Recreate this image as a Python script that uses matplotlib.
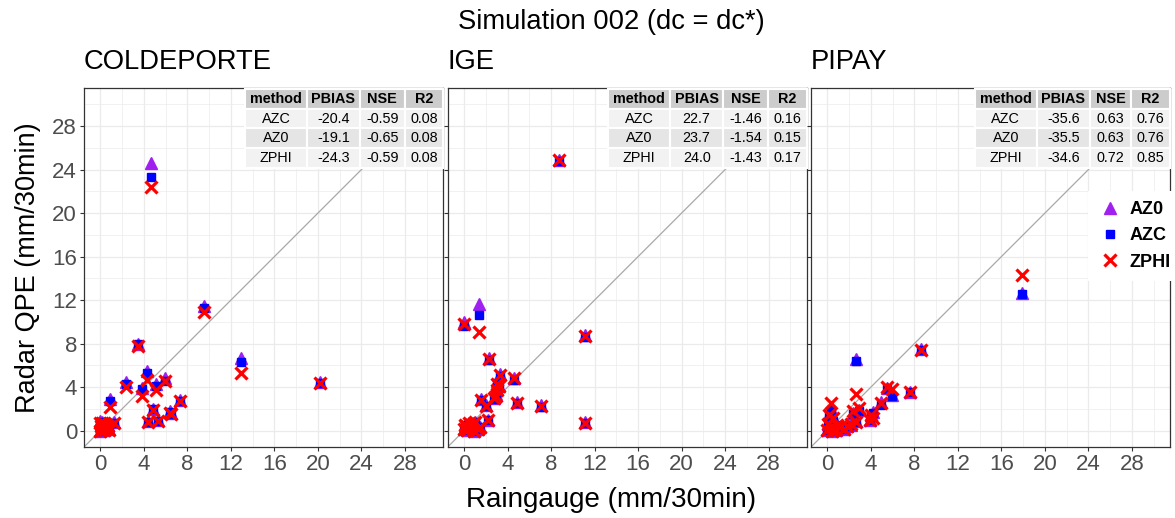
import matplotlib
matplotlib.use("Agg")
import matplotlib.pyplot as plt
from matplotlib.lines import Line2D
import numpy as np

plt.rcParams['font.family'] = ['Liberation Sans', 'DejaVu Sans']

# ---- data ----
panel_names = ["COLDEPORTE", "IGE", "PIPAY"]

cold_gauge = [4.7, 9.5, 3.5, 12.9, 20.2, 4.3, 2.4, 3.8, 5.1, 5.9, 0.9, 4.8, 7.3, 6.4, 6.5, 4.4, 5.3, 1.3,
              0.0, 0.1, 0.2, 0.3, 0.5, 0.0, 0.4, 0.6, 0.2, 0.8, 0.1, 0.3, 0.7]
cold_az0 = [24.6, 11.5, 8.0, 6.7, 4.5, 5.5, 4.5, 3.9, 4.3, 4.8, 2.9, 2.0, 2.8, 1.8, 1.6, 0.9, 1.0, 0.8,
            0.9, 0.5, 0.3, 0.1, 0.6, 0.0, 0.2, 0.4, 0.8, 0.2, 0.1, 0.7, 0.5]
cold_azc = [23.3, 11.3, 8.0, 6.3, 4.4, 5.3, 4.3, 3.8, 4.1, 4.6, 2.7, 2.0, 2.7, 1.7, 1.5, 0.8, 0.9, 0.7,
            0.8, 0.5, 0.3, 0.1, 0.5, 0.0, 0.2, 0.4, 0.7, 0.2, 0.1, 0.6, 0.5]
cold_zphi = [22.4, 10.9, 7.8, 5.3, 4.4, 4.7, 4.0, 3.2, 3.7, 4.6, 2.2, 1.9, 2.7, 1.6, 1.5, 0.8, 0.9, 0.7,
             0.7, 0.4, 0.3, 0.1, 0.5, 0.0, 0.2, 0.3, 0.7, 0.1, 0.1, 0.6, 0.4]

ige_gauge = [8.7, 11.1, 11.1, 0.0, 1.4, 2.3, 3.3, 3.0, 4.6, 3.0, 3.2, 2.8, 2.9, 1.6, 2.0, 4.9, 7.1, 2.2,
             0.0, 0.2, 0.5, 0.8, 1.0, 0.3, 1.3, 0.6, 1.5, 0.9, 0.1]
ige_az0 = [24.9, 8.8, 0.8, 10.0, 11.6, 6.7, 5.2, 4.6, 4.8, 3.8, 4.1, 3.0, 3.4, 2.9, 2.4, 2.6, 2.4, 1.0,
           0.2, 0.4, 0.7, 0.6, 0.8, 0.1, 0.2, 0.3, 0.3, 0.0, 0.5]
ige_azc = [24.8, 8.6, 0.7, 9.6, 10.6, 6.5, 5.0, 4.4, 4.7, 3.6, 4.0, 2.9, 3.3, 2.8, 2.3, 2.5, 2.2, 1.0,
           0.2, 0.4, 0.7, 0.6, 0.8, 0.1, 0.2, 0.3, 0.3, 0.0, 0.5]
ige_zphi = [24.9, 8.7, 0.7, 9.8, 9.1, 6.6, 5.1, 4.3, 4.8, 3.7, 4.1, 3.0, 3.2, 2.8, 2.3, 2.5, 2.3, 1.0,
            0.2, 0.4, 0.7, 0.6, 0.8, 0.1, 0.2, 0.3, 0.3, 0.0, 0.5]

pip_gauge = [17.9, 8.6, 2.6, 7.6, 5.5, 5.9, 4.9, 4.0, 4.2, 3.9, 2.9, 2.4, 2.6, 0.3, 0.15, 0.5, 1.8, 2.2,
             0.0, 0.3, 0.6, 0.9, 1.2, 0.1, 1.5, 0.4, 0.8]
pip_az0 = [12.7, 7.5, 6.6, 3.6, 3.9, 3.3, 2.6, 1.4, 1.7, 1.0, 1.9, 1.6, 0.9, 2.0, 1.5, 1.0, 0.4, 0.5,
           0.1, 0.3, 0.2, 0.5, 0.3, 0.6, 0.2, 0.0, 0.1]
pip_azc = [12.6, 7.4, 6.4, 3.6, 3.8, 3.2, 2.4, 1.3, 1.6, 1.0, 1.8, 1.5, 0.8, 1.9, 1.4, 0.9, 0.4, 0.5,
           0.1, 0.3, 0.2, 0.5, 0.3, 0.6, 0.2, 0.0, 0.1]
pip_zphi = [14.3, 7.4, 3.4, 3.6, 4.0, 3.8, 2.5, 1.4, 1.2, 1.0, 2.1, 1.8, 0.8, 2.5, 1.4, 1.2, 0.4, 0.6,
            0.1, 0.3, 0.2, 0.5, 0.3, 0.6, 0.2, 0.0, 0.1]

table_header = ["method", "PBIAS", "NSE", "R2"]
table_methods = ["AZC", "AZ0", "ZPHI"]
cold_stats = [["-20.4", "-0.59", "0.08"], ["-19.1", "-0.65", "0.08"], ["-24.3", "-0.59", "0.08"]]
ige_stats = [["22.7", "-1.46", "0.16"], ["23.7", "-1.54", "0.15"], ["24.0", "-1.43", "0.17"]]
pip_stats = [["-35.6", "0.63", "0.76"], ["-35.5", "0.63", "0.76"], ["-34.6", "0.72", "0.85"]]

ticks = [0, 4, 8, 12, 16, 20, 24, 28]
minor_ticks = [2, 6, 10, 14, 18, 22, 26, 30]

panels = [
  (cold_gauge, cold_az0, cold_azc, cold_zphi, cold_stats, [61.7, 52.7, 45.0, 38.3]),
  (ige_gauge, ige_az0, ige_azc, ige_zphi, ige_stats, [61.7, 53.3, 44.7, 38.7]),
  (pip_gauge, pip_az0, pip_azc, pip_zphi, pip_stats, [61.6, 53.4, 41.0, 39.0]),
]

W, H = 1175, 518
fig = plt.figure(figsize=(W / 100, H / 100), dpi=100)

lefts = [84, 447.7, 811]
ax_top, ax_bot, ax_w = 88, 447, 359

for i, (gauge, az0, azc, zphi, stats, col_px) in enumerate(panels):
  ax = fig.add_axes([lefts[i] / W, 1 - ax_bot / H, ax_w / W, (ax_bot - ax_top) / H])
  ax.set_xlim(-1.5, 31.5)
  ax.set_ylim(-1.5, 31.5)
  ax.set_xticks(ticks)
  ax.set_yticks(ticks)
  ax.set_xticks(minor_ticks, minor=True)
  ax.set_yticks(minor_ticks, minor=True)
  ax.grid(True, which='major', color='#EBEBEB', linewidth=0.9, zorder=0)
  ax.grid(True, which='minor', color='#EBEBEB', linewidth=0.5, zorder=0)
  ax.set_axisbelow(True)
  ax.tick_params(which='minor', length=0)
  ax.tick_params(which='major', length=3, width=0.8, color='#333333', labelcolor='#4D4D4D', labelsize=16, pad=2)
  if i > 0:
    ax.set_yticklabels([])
  for s in ax.spines.values():
    s.set_color('#333333')
    s.set_linewidth(0.9)

  ax.axline((0, 0), slope=1, color='#A8A8A8', linewidth=0.9, zorder=1)

  ax.plot(gauge, az0, linestyle='none', marker='^', markersize=8, color='#A020F0', zorder=3)
  ax.plot(gauge, azc, linestyle='none', marker='s', markersize=6, color='#0000FF', zorder=4)
  ax.plot(gauge, zphi, linestyle='none', marker='x', markersize=8, markeredgewidth=2.3, color='#FF0000', zorder=5)

  ax.text(0, 1.035, panel_names[i], transform=ax.transAxes, fontsize=19.7, ha='left', va='bottom')

  # stats table in the top right corner
  cell_text = [[m] + row for m, row in zip(table_methods, stats)]
  tw = sum(col_px) / ax_w
  th = 78.7 / ax_w
  tab = ax.table(cellText=cell_text, colLabels=table_header, colWidths=[c / ax_w for c in col_px],
                 cellLoc='center', bbox=[1 - tw, 0.997 - th, tw, th])
  tab.auto_set_font_size(False)
  tab.set_fontsize(10.4)
  tab.set_zorder(6)
  row_colors = ['#CCCCCC', '#F2F2F2', '#E5E5E5', '#F2F2F2']
  for (r, c), cell in tab.get_celld().items():
    cell.set_facecolor(row_colors[r])
    cell.set_edgecolor('white')
    cell.set_linewidth(1.5)
    if r == 0:
      cell.get_text().set_fontweight('bold')

fig.text(611 / W, 1 - 22 / H, "Simulation 002 (dc = dc*)", fontsize=19.7, ha='center', va='center')
fig.text(611 / W, 1 - 500 / H, "Raingauge (mm/30min)", fontsize=20, ha='center', va='center')
fig.text(28 / W, 1 - 268 / H, "Radar QPE (mm/30min)", fontsize=19.5, ha='center', va='center', rotation=90)

handles = [
  Line2D([], [], linestyle='none', marker='^', markersize=8, color='#A020F0'),
  Line2D([], [], linestyle='none', marker='s', markersize=6, color='#0000FF'),
  Line2D([], [], linestyle='none', marker='x', markersize=8, markeredgewidth=2.3, color='#FF0000'),
]
leg = fig.legend(handles, ["AZ0", "AZC", "ZPHI"], loc='center left', bbox_to_anchor=(1088 / W, 1 - 236 / H),
                 frameon=True, facecolor='white', edgecolor='none', framealpha=1, fancybox=False,
                 prop={'weight': 'bold', 'size': 13}, handlelength=1.2, handletextpad=0.5,
                 labelspacing=0.5, borderpad=0.6, borderaxespad=0)

fig.savefig("out.png", dpi=100)
